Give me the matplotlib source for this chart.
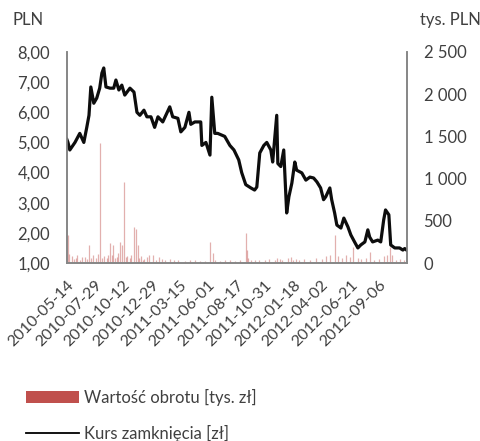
import matplotlib
matplotlib.use("Agg")
import matplotlib.pyplot as plt
import matplotlib.dates as mdates
from matplotlib.lines import Line2D
from matplotlib.patches import Patch
from matplotlib.ticker import FuncFormatter
import pandas as pd

plt.rcParams["font.family"] = ["Lato", "DejaVu Sans"]

# closing price [zł]
price_dates = [
    "2010-05-14", "2010-05-17", "2010-05-22", "2010-06-05", "2010-06-18", "2010-06-29",
    "2010-07-07", "2010-07-13", "2010-07-18", "2010-07-26", "2010-08-03", "2010-08-11",
    "2010-08-17", "2010-08-22", "2010-08-28", "2010-09-08", "2010-09-18", "2010-09-24",
    "2010-10-02", "2010-10-10", "2010-10-18", "2010-11-01", "2010-11-12", "2010-11-20",
    "2010-11-28", "2010-12-09", "2010-12-17", "2010-12-28", "2011-01-07", "2011-01-16",
    "2011-01-29", "2011-02-17", "2011-02-25", "2011-03-11", "2011-03-19", "2011-03-30",
    "2011-04-10", "2011-04-15", "2011-04-26", "2011-05-12", "2011-05-15", "2011-05-26",
    "2011-06-06", "2011-06-11", "2011-06-19", "2011-06-27", "2011-07-16", "2011-07-30",
    "2011-08-10", "2011-08-23", "2011-08-31", "2011-09-11", "2011-09-25", "2011-10-05",
    "2011-10-11", "2011-10-19", "2011-10-30", "2011-11-07", "2011-11-18", "2011-11-23",
    "2011-12-04", "2011-12-07", "2011-12-15", "2011-12-23", "2011-12-31", "2012-01-06",
    "2012-01-14", "2012-01-22", "2012-01-27", "2012-02-10", "2012-02-21", "2012-03-03",
    "2012-03-13", "2012-03-22", "2012-04-01", "2012-04-09", "2012-04-15", "2012-04-26",
    "2012-05-01", "2012-05-09", "2012-05-15", "2012-05-26", "2012-06-03", "2012-06-14",
    "2012-06-22", "2012-07-02", "2012-07-11", "2012-07-19", "2012-07-30", "2012-08-07",
    "2012-08-12", "2012-08-20", "2012-09-03", "2012-09-11", "2012-09-19", "2012-09-24",
    "2012-10-03", "2012-10-08", "2012-10-19", "2012-11-01", "2012-11-10", "2012-11-15",
    "2012-11-20",
]
price_values = [
    5.10, 5.00, 4.75, 5.00, 5.30, 5.00,
    5.50, 5.90, 6.84, 6.30, 6.47, 6.80,
    7.30, 7.47, 6.84, 6.80, 6.80, 7.07,
    6.74, 6.90, 6.57, 6.80, 6.67, 6.00,
    5.90, 6.07, 5.85, 5.85, 5.50, 5.85,
    5.68, 6.18, 5.85, 5.80, 5.35, 5.50,
    6.00, 5.60, 5.68, 5.68, 4.90, 5.00,
    4.58, 6.50, 5.30, 5.30, 5.20, 4.90,
    4.75, 4.42, 4.00, 3.60, 3.49, 3.42,
    3.52, 4.65, 4.90, 5.00, 4.75, 4.35,
    5.90, 4.30, 4.20, 4.75, 2.66, 3.20,
    3.65, 4.35, 4.08, 3.99, 3.75, 3.85,
    3.82, 3.69, 3.49, 3.10, 3.20, 3.49,
    3.10, 2.66, 2.26, 2.16, 2.49, 2.20,
    1.93, 1.70, 1.50, 1.60, 1.70, 2.10,
    1.86, 1.70, 1.76, 1.70, 2.43, 2.76,
    2.60, 1.60, 1.50, 1.50, 1.43, 1.48,
    1.43,
]

# turnover value [tys. zł]
turnover_dates = [
    "2010-05-17", "2010-05-21", "2010-05-28", "2010-06-02", "2010-06-07", "2010-06-11",
    "2010-06-18", "2010-06-24", "2010-07-02", "2010-07-08", "2010-07-13", "2010-07-19",
    "2010-07-23", "2010-08-02", "2010-08-06", "2010-08-13", "2010-08-18", "2010-08-23",
    "2010-08-30", "2010-09-03", "2010-09-08", "2010-09-13", "2010-09-17", "2010-09-22",
    "2010-09-27", "2010-10-01", "2010-10-05", "2010-10-11", "2010-10-15", "2010-10-20",
    "2010-10-25", "2010-11-01", "2010-11-05", "2010-11-12", "2010-11-17", "2010-11-22",
    "2010-11-26", "2010-12-01", "2010-12-06", "2010-12-10", "2010-12-16", "2010-12-22",
    "2011-01-03", "2011-01-10", "2011-01-18", "2011-01-26", "2011-02-04", "2011-02-17",
    "2011-03-01", "2011-03-11", "2011-03-30", "2011-04-14", "2011-04-26", "2011-05-09",
    "2011-05-23", "2011-06-06", "2011-06-14", "2011-06-21", "2011-07-04", "2011-07-18",
    "2011-07-29", "2011-08-12", "2011-08-26", "2011-09-12", "2011-09-14", "2011-09-16",
    "2011-09-26", "2011-10-05", "2011-10-18", "2011-11-02", "2011-11-14", "2011-11-29",
    "2011-12-05", "2011-12-12", "2011-12-19", "2012-01-03", "2012-01-11", "2012-01-18",
    "2012-01-25", "2012-02-03", "2012-02-17", "2012-03-02", "2012-03-19", "2012-04-04",
    "2012-04-16", "2012-04-26", "2012-05-09", "2012-05-17", "2012-05-28", "2012-06-08",
    "2012-06-19", "2012-06-29", "2012-07-11", "2012-07-20", "2012-08-01", "2012-08-13",
    "2012-08-23", "2012-09-06", "2012-09-19", "2012-09-27", "2012-10-05", "2012-10-11",
    "2012-10-22", "2012-11-01", "2012-11-12",
]
turnover_values = [
    330, 110, 80, 50, 60, 90,
    40, 70, 70, 50, 213, 60,
    90, 60, 110, 1420, 60, 80,
    60, 90, 237, 100, 213, 60,
    70, 120, 250, 213, 960, 70,
    80, 60, 100, 427, 400, 213,
    60, 80, 40, 50, 70, 90,
    95, 40, 70, 50, 40, 50,
    40, 30, 25, 30, 30, 25,
    25, 250, 120, 40, 20, 30,
    30, 25, 40, 350, 150, 60,
    30, 30, 40, 40, 50, 40,
    60, 50, 40, 60, 70, 40,
    50, 40, 50, 40, 60, 50,
    80, 90, 330, 80, 60, 90,
    70, 185, 60, 50, 60, 130,
    40, 50, 80, 100, 185, 90,
    40, 50, 40,
]

tick_labels = [
    "2010-05-14", "2010-07-29", "2010-10-12", "2010-12-29", "2011-03-15", "2011-06-01",
    "2011-08-17", "2011-10-31", "2012-01-18", "2012-04-02", "2012-06-21", "2012-09-06",
]

TEXT = "#404040"
SPINE = "#868686"
RED = "#C0504D"

fig = plt.figure(figsize=(4.81, 4.41), dpi=100)
ax = fig.add_axes([0.139, 0.4036, 0.707, 0.4785])
ax2 = ax.twinx()

ax2.vlines(pd.to_datetime(turnover_dates), 0, turnover_values,
           color=RED, alpha=0.45, linewidth=0.9)
ax.plot(pd.to_datetime(price_dates), price_values, color="#0d0d0d", linewidth=2.3,
        solid_joinstyle="round")

# price line above the turnover bars
ax.set_zorder(ax2.get_zorder() + 1)
ax.patch.set_visible(False)

ax.set_ylim(1, 8)
ax.set_yticks(range(1, 9))
ax2.set_ylim(0, 2500)
ax2.set_yticks([0, 500, 1000, 1500, 2000, 2500])
ax.yaxis.set_major_formatter(FuncFormatter(lambda v, p: f"{v:.2f}".replace(".", ",")))
ax2.yaxis.set_major_formatter(FuncFormatter(lambda v, p: f"{int(v):,}".replace(",", " ")))

ax.set_xlim(pd.Timestamp("2010-05-14"), pd.Timestamp("2012-11-21"))
ax.set_xticks(pd.to_datetime(tick_labels))
ax.set_xticklabels(tick_labels, rotation=45, ha="right", rotation_mode="anchor")
ax.xaxis.set_major_formatter(mdates.DateFormatter("%Y-%m-%d"))

for a in (ax, ax2):
    a.spines["top"].set_visible(False)
    for s in ("left", "right", "bottom"):
        a.spines[s].set_color(SPINE)
        a.spines[s].set_linewidth(1.2)
    a.tick_params(length=0, labelsize=12, colors=TEXT)
ax.tick_params(axis="y", pad=12)
ax2.tick_params(axis="y", pad=12)
ax.tick_params(axis="x", labelsize=11.5, pad=11)

fig.text(0.027, 0.955, "PLN", fontsize=12, color=TEXT, va="center")
fig.text(0.873, 0.955, "tys. PLN", fontsize=12, color=TEXT, va="center")

handles = [
    Patch(facecolor=RED, edgecolor="none"),
    Line2D([0], [0], color="black", linewidth=1.3),
]
fig.legend(handles, ["Wartość obrotu [tys. zł]", "Kurs zamknięcia [zł]"],
           loc="upper left", bbox_to_anchor=(0.054, 0.118), frameon=False,
           fontsize=12, labelcolor=TEXT, handlelength=3.2, handleheight=0.7,
           handletextpad=0.3, labelspacing=1.15, borderpad=0, borderaxespad=0)

fig.savefig("out.png", dpi=100)
